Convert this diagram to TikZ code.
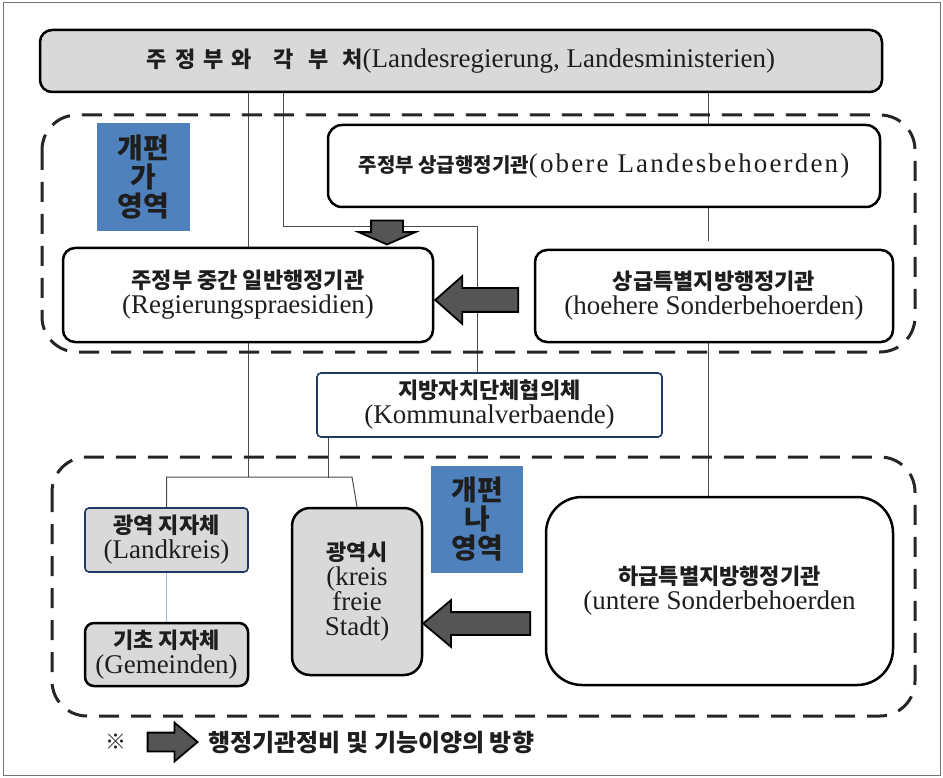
\documentclass[tikz,border=0pt]{standalone}
\usepackage{fontspec}
\setmainfont{Liberation Serif}
\newfontfamily\krfont{Noto Sans CJK KR}
\newcommand{\kr}[1]{{\krfont\bfseries\fontsize{22}{25}\selectfont #1}}
\usetikzlibrary{shapes.arrows,backgrounds}
\definecolor{boxgray}{HTML}{D9D9D9}
\definecolor{zoneblue}{HTML}{4F81BD}
\definecolor{navy3}{HTML}{1F3864}
\definecolor{arrowgray}{HTML}{555555}
\definecolor{textdark}{HTML}{1E1E1E}
\definecolor{linkblue}{HTML}{9DB9E0}

\begin{document}
\begin{tikzpicture}[x=1pt, y=-1pt,
  every node/.style={font=\fontsize{27}{25}\selectfont, text=textdark, align=center},
  unit/.style={draw=black, line width=2.5pt, rounded corners=12pt, fill=white, inner sep=0pt},
  kbox/.style={draw=navy3, line width=1.6pt, rounded corners=4pt, inner sep=0pt},
  zone/.style={fill=zoneblue, inner sep=0pt, minimum width=93pt, minimum height=108pt,
    font=\krfont\bfseries\fontsize{28}{29}\selectfont},
  bigarrow/.style={single arrow, draw=black, fill=arrowgray, line width=1.8pt,
    inner xsep=0pt, text height=0pt, text depth=0pt, minimum width=0pt},
  link/.style={draw=black!70, line width=1pt},
  region/.style={draw=black!85, line width=3pt, dash pattern=on 20pt off 12pt, rounded corners=35pt}]

  \useasboundingbox (0,0) rectangle (943,778);
  \draw[black!55, line width=1pt] (3,3) rectangle (940,775);

  % dashed reform areas
  \draw[region] (42,115) rectangle (915,352);
  \draw[region] (52,457) rectangle (915,716);

  % state level
  \node[unit, fill=boxgray, minimum width=842pt, minimum height=62pt] (land) at (461,61)
    {\kr{주\hspace{8pt}정\hspace{8pt}부\hspace{8pt}와\hspace{22pt}각\hspace{14pt}부\hspace{14pt}처}(Landesregierung, Landesministerien)};
  \node[unit, minimum width=552pt, minimum height=82pt, rounded corners=14pt] (obere) at (604,166)
    {{\krfont\bfseries\fontsize{20}{25}\selectfont 주정부 상급행정기관}{\addfontfeature{LetterSpace=8}(obere Landesbehoerden)}};
  \node[unit, minimum width=370pt, minimum height=94pt] (regp) at (248,295)
    {\kr{주정부 중간 일반행정기관}\\(Regierungspraesidien)};
  \node[unit, minimum width=358pt, minimum height=92pt] (hoehere) at (714,296)
    {\kr{상급특별지방행정기관}\\(hoehere Sonderbehoerden)};
  \node[zone] (zoneA) at (143.5,177.5) {개편\\가\\영역};

  % municipal level
  \node[kbox, fill=white, minimum width=345pt, minimum height=64pt] (kommunal) at (489.5,405)
    {\kr{지방자치단체협의체}\\(Kommunalverbaende)};
  \node[kbox, fill=boxgray, minimum width=163pt, minimum height=64pt] (landkreis) at (166.5,540)
    {\kr{광역 지자체}\\(Landkreis)};
  \node[unit, fill=boxgray, minimum width=163pt, minimum height=63pt, rounded corners=9pt] (gemeinden) at (166.5,654.5)
    {\kr{기초 지자체}\\(Gemeinden)};
  \node[unit, fill=boxgray, minimum width=130pt, minimum height=167pt, rounded corners=18pt] (kfstadt) at (357,591.5)
    {\kr{광역시}\\(kreis\\freie\\Stadt)};
  \node[unit, minimum width=347pt, minimum height=188pt, rounded corners=36pt] (untere) at (719.5,591)
    {\kr{하급특별지방행정기관}\\(untere Sonderbehoerden};
  \node[zone, minimum width=92pt, minimum height=107pt] (zoneB) at (477,519.5) {개편\\나\\영역};

  % transfer arrows
  \node[bigarrow, shape border rotate=270, minimum height=24pt, inner xsep=15pt, inner ysep=0pt,
    single arrow head extend=12.5pt, single arrow tip angle=133] (toRegp) at (387,229) {};
  \node[bigarrow, shape border rotate=180, minimum height=83pt, inner ysep=11pt,
    single arrow head extend=12pt, single arrow tip angle=83] (fromHoehere) at (483.5,300) {};
  \node[bigarrow, shape border rotate=180, minimum height=107pt, inner ysep=10.5pt,
    single arrow head extend=12pt, single arrow tip angle=80] (fromUntere) at (483.5,623.5) {};

  % legend
  \node[font=\krfont\bfseries\fontsize{21}{22}\selectfont] (note) at (116,742) {※};
  \node[bigarrow, minimum height=50pt, inner ysep=8.5pt,
    single arrow head extend=10pt, single arrow tip angle=80] (legArrow) at (167,742) {};
  \node[anchor=west, font=\krfont\bfseries\fontsize{24}{25}\selectfont] (legText) at (205,742)
    {행정기관정비 및 기능이양의 방향};

  % connecting lines
  \begin{scope}[on background layer]
    \coordinate (splitL) at (167,477);
    \coordinate (splitR) at (352,477);
    \coordinate (bendA) at (283,227);
    \coordinate (bendB) at (477,227);
    \coordinate (rline) at (708,0);
    \draw[link] (land.south -| regp) -- (regp |- splitL);
    \draw[link] (land.south -| bendA) -- (bendA) -- (bendB) -- (bendB |- kommunal.north);
    \draw[link] (land.south -| rline) -- (obere.north -| rline);
    \draw[link] (obere.south -| rline) -- ++(0,33);
    \draw[link] (hoehere.south -| rline) -- (untere.north -| rline);
    \draw[link] (kommunal.south west) ++(12,0) -- ++(0,40);
    \draw[link] (landkreis.north) |- (splitR) -- (kfstadt.north);
    \draw[link, draw=linkblue] (landkreis.south) -- (gemeinden.north);
  \end{scope}

\end{tikzpicture}
\end{document}
